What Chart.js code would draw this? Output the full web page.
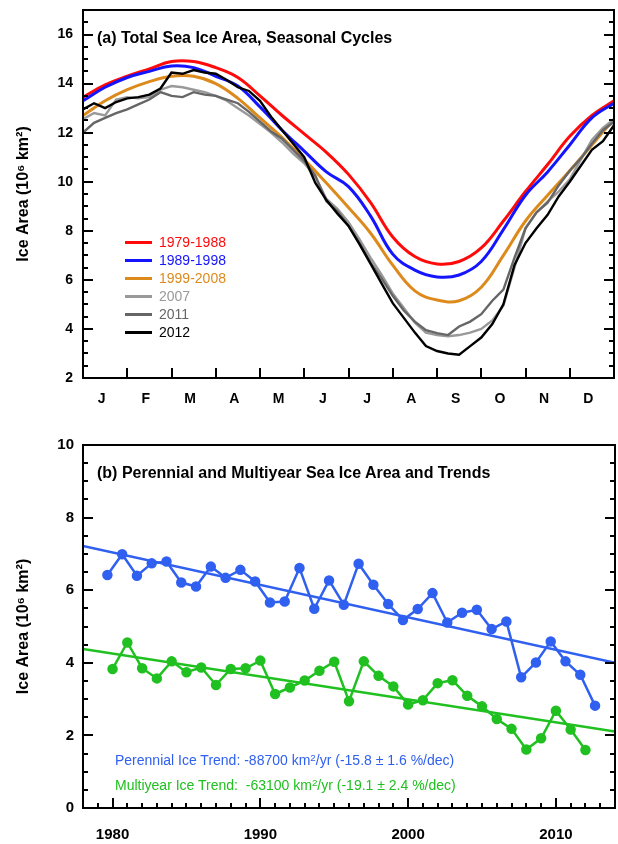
<!DOCTYPE html>
<html>
<head>
<meta charset="utf-8">
<script src="https://cdn.jsdelivr.net/npm/chart.js@4.4.1/dist/chart.umd.min.js"></script>
<style>
  body { margin: 0; background: #fff; }
  #wrap { position: relative; width: 618px; height: 844px; font-family: 'Liberation Sans', Arial, sans-serif; }
  canvas { position: absolute; left: 0; }
  .panel-title { position: absolute; left: 97px; font-weight: bold; font-size: 16px; line-height: 20px; white-space: nowrap; }
  .legend { position: absolute; left: 125px; top: 233px; font-size: 14px; line-height: 18px; }
  .legend div { white-space: nowrap; }
  .legend i { display: inline-block; width: 27px; height: 3px; vertical-align: middle; margin-right: 7px; position: relative; top: -1px; }
  .trend { position: absolute; left: 115px; font-size: 14px; line-height: 18px; white-space: nowrap; }
  sup { font-size: 70%; line-height: 0; vertical-align: 0.45em; }
</style>
</head>
<body>
<div id="wrap">
  <canvas id="seasonal" width="618" height="420" style="top:0"></canvas>
  <canvas id="trends" width="618" height="424" style="top:420px"></canvas>

  <div class="panel-title" style="top:28px">(a) Total Sea Ice Area, Seasonal Cycles</div>
  <div class="legend" id="legend"></div>

  <div class="panel-title" style="top:463px">(b) Perennial and Multiyear Sea Ice Area and Trends</div>
  <div class="trend" style="top:751px;color:#3060f0">Perennial Ice Trend: -88700 km<sup>2</sup>/yr (-15.8 ± 1.6 %/dec)</div>
  <div class="trend" style="top:776px;color:#20c020">Multiyear Ice Trend:&nbsp; -63100 km<sup>2</sup>/yr (-19.1 ± 2.4 %/dec)</div>
</div>

<script>
// ---- (a) seasonal cycles, values in 10^6 km2 ----
const months = ['J', 'F', 'M', 'A', 'M', 'J', 'J', 'A', 'S', 'O', 'N', 'D'];
const halfMonths = Array.from({length: 25}, (_, i) => i / 2);      // sample positions, months since Jan 1
const quarterMonths = Array.from({length: 49}, (_, i) => i / 4);

const ice7988 = [13.45, 13.95, 14.3, 14.6, 14.9, 14.9, 14.65, 14.25, 13.5, 12.7, 11.95, 11.2, 10.3,
                 9.15, 7.75, 6.95, 6.65, 6.75, 7.3, 8.4, 9.6, 10.7, 11.85, 12.7, 13.3];
const ice8998 = [13.3, 13.85, 14.25, 14.5, 14.72, 14.65, 14.3, 13.9, 13.05, 12.1, 11.25, 10.4, 9.8,
                 8.6, 7.05, 6.4, 6.12, 6.2, 6.75, 8.05, 9.45, 10.4, 11.5, 12.6, 13.2];
const ice9908 = [12.7, 13.3, 13.75, 14.08, 14.3, 14.3, 14.0, 13.4, 12.6, 11.8, 10.9, 9.95, 8.95,
                 7.9, 6.6, 5.55, 5.18, 5.15, 5.7, 7.0, 8.4, 9.45, 10.45, 11.5, 12.55];

const ice2007 = [12.55, 12.8, 12.7, 13.35, 13.45, 13.4, 13.45, 13.75, 13.9, 13.85, 13.75, 13.65, 13.5,
                 13.3, 13.0, 12.7, 12.35, 12.0, 11.6, 11.15, 10.75, 10.2, 9.3, 8.9, 8.35,
                 7.65, 6.9, 6.2, 5.45, 4.85, 4.25, 3.85, 3.75, 3.7, 3.75, 3.85, 4.0,
                 4.35, 4.95, 6.5, 8.1, 8.75, 9.2, 9.6, 10.1, 10.9, 11.7, 12.2, 12.55];
const ice2011 = [12.0, 12.4, 12.6, 12.8, 12.95, 13.15, 13.35, 13.65, 13.5, 13.45, 13.65, 13.55, 13.5,
                 13.35, 13.2, 12.85, 12.45, 12.05, 11.75, 11.3, 10.85, 10.25, 9.2, 8.8, 8.2,
                 7.5, 6.7, 6.05, 5.35, 4.75, 4.3, 3.95, 3.83, 3.75, 4.1, 4.3, 4.6,
                 5.15, 5.6, 6.9, 8.1, 8.75, 9.15, 9.85, 10.45, 10.95, 11.55, 12.1, 12.45];
const ice2012 = [12.95, 13.2, 13.0, 13.25, 13.4, 13.45, 13.55, 13.8, 14.45, 14.4, 14.55, 14.45, 14.4,
                 14.15, 13.85, 13.7, 13.3, 12.65, 12.1, 11.55, 11.0, 9.95, 9.25, 8.7, 8.2,
                 7.45, 6.65, 5.85, 5.05, 4.45, 3.85, 3.3, 3.1, 3.0, 2.95, 3.3, 3.65,
                 4.2, 5.0, 6.6, 7.5, 8.1, 8.65, 9.4, 10.0, 10.65, 11.3, 11.65, 12.3];

// ---- (b) perennial (Sept minimum) and multiyear (winter) ice ----
const perennialYears = [1979, 1980, 1981, 1982, 1983, 1984, 1985, 1986, 1987, 1988, 1989, 1990,
                        1991, 1992, 1993, 1994, 1995, 1996, 1997, 1998, 1999, 2000, 2001, 2002,
                        2003, 2004, 2005, 2006, 2007, 2008, 2009, 2010, 2011, 2012];
const perennialArea = [6.42, 6.99, 6.40, 6.74, 6.79, 6.21, 6.10, 6.65, 6.34, 6.56, 6.24, 5.66,
                       5.69, 6.61, 5.49, 6.27, 5.60, 6.73, 6.15, 5.62, 5.18, 5.48, 5.92, 5.11,
                       5.38, 5.46, 4.93, 5.14, 3.60, 4.01, 4.59, 4.04, 3.67, 2.82];
const multiyearYears = perennialYears.slice(1);
const multiyearArea = [3.83, 4.56, 3.85, 3.57, 4.04, 3.74, 3.87, 3.39, 3.83, 3.85, 4.06,
                       3.14, 3.32, 3.51, 3.78, 4.03, 2.94, 4.04, 3.64, 3.35, 2.85, 2.97,
                       3.44, 3.52, 3.09, 2.80, 2.45, 2.18, 1.61, 1.92, 2.68, 2.16, 1.60];
const septFraction = 0.65;   // perennial values sit at the September minimum
const trendYears = [1978, 2014];
const perennialTrend = [7.22, 4.0];
const multiyearTrend = [4.38, 2.11];
const yearLabels = [1980, 1990, 2000, 2010];

const RED = '#ff0a0a', BLUE = '#1414ff', ORANGE = '#dd8a1c';
const BLUE_B = '#3060f0', GREEN_B = '#20c020';

Chart.defaults.font.family = "'Liberation Sans', Arial, sans-serif";
Chart.defaults.color = '#000';

const pts = (xs, ys) => ys.map((v, i) => ({x: xs[i], y: v}));
const noPad = s => { s.paddingTop = 0; s.paddingBottom = 0; s.paddingLeft = 0; s.paddingRight = 0; };

// frame + inward tick marks, placed through the chart scales
const frameTicks = {
    id: 'frameTicks',
    afterDatasetsDraw(chart, args, o) {
        const {ctx, chartArea: a, scales: {x, y}} = chart;
        ctx.save();
        ctx.strokeStyle = '#000';
        ctx.lineWidth = 2;
        ctx.beginPath();
        for (let v = y.min + o.yMinor; v < y.max - 1e-6; v += o.yMinor) {
            const py = Math.round(y.getPixelForValue(v));
            const r = v / o.yMajor;
            const len = Math.abs(r - Math.round(r)) < 1e-6 ? 10 : 5;
            ctx.moveTo(a.left, py); ctx.lineTo(a.left + len, py);
            ctx.moveTo(a.right, py); ctx.lineTo(a.right - len, py);
        }
        o.xTicks.forEach(v => {
            const px = Math.round(x.getPixelForValue(v));
            const len = o.xMajor ? (v % o.xMajor === 0 ? 10 : 5) : 10;
            ctx.moveTo(px, a.bottom); ctx.lineTo(px, a.bottom - len);
        });
        ctx.stroke();
        ctx.strokeRect(a.left, a.top, a.right - a.left, a.bottom - a.top);
        ctx.restore();
    }
};

const yTitle = 'Ice Area (10\u2076 km\u00b2)';

// legend (a)
const legendRows = [['1979-1988', RED], ['1989-1998', BLUE], ['1999-2008', ORANGE],
                    ['2007', '#999999'], ['2011', '#666666'], ['2012', '#000000']];
document.getElementById('legend').innerHTML = legendRows
    .map(([t, c]) => `<div style="color:${c}"><i style="background:${c}"></i>${t}</div>`).join('');

new Chart(document.getElementById('seasonal'), {
    type: 'line',
    data: {
        datasets: [
            {label: '1979-1988', data: pts(halfMonths, ice7988), borderColor: RED, borderWidth: 3, tension: 0.4, order: 6},
            {label: '1989-1998', data: pts(halfMonths, ice8998), borderColor: BLUE, borderWidth: 3, tension: 0.4, order: 5},
            {label: '1999-2008', data: pts(halfMonths, ice9908), borderColor: ORANGE, borderWidth: 3, tension: 0.4, order: 4},
            {label: '2007', data: pts(quarterMonths, ice2007), borderColor: '#999999', borderWidth: 2.4, tension: 0, order: 3},
            {label: '2011', data: pts(quarterMonths, ice2011), borderColor: '#666666', borderWidth: 2.4, tension: 0, order: 2},
            {label: '2012', data: pts(quarterMonths, ice2012), borderColor: '#000000', borderWidth: 2.4, tension: 0, order: 1}
        ]
    },
    options: {
        responsive: false,
        animation: false,
        layout: {autoPadding: false, padding: {left: 0, right: 4, top: 10, bottom: 0}},
        elements: {point: {radius: 0}},
        plugins: {
            legend: {display: false},
            tooltip: {enabled: false},
            frameTicks: {yMinor: 0.5, yMajor: 2, xTicks: [1, 2, 3, 4, 5, 6, 7, 8, 9, 10, 11]}
        },
        scales: {
            x: {
                type: 'linear', min: 0, max: 12,
                grid: {display: false, drawTicks: false}, border: {display: false},
                afterBuildTicks: s => { s.ticks = months.map((m, i) => ({value: i + 0.42})); },
                afterFit: s => { s.height = 42; noPad(s); },
                ticks: {autoSkip: false, maxRotation: 0, padding: 13, font: {size: 14, weight: 'bold'},
                        callback: (v, i) => months[i]}
            },
            y: {
                min: 2, max: 17,
                grid: {display: false, drawTicks: false}, border: {display: false},
                afterFit: s => { s.width = 83; noPad(s); },
                ticks: {stepSize: 2, includeBounds: false, padding: 10, font: {size: 14, weight: 'bold'}},
                title: {display: true, text: yTitle, font: {size: 16, weight: 'bold'}, padding: {top: 14, bottom: 0}}
            }
        }
    },
    plugins: [frameTicks]
});

const yearTicks = Array.from({length: 37}, (_, i) => 1978 + i);

new Chart(document.getElementById('trends'), {
    type: 'line',
    data: {
        datasets: [
            {label: 'Perennial', data: pts(perennialYears.map(y => y + septFraction), perennialArea),
             borderColor: BLUE_B, backgroundColor: BLUE_B, borderWidth: 2.5, pointRadius: 4, tension: 0},
            {label: 'Multiyear', data: pts(multiyearYears, multiyearArea),
             borderColor: GREEN_B, backgroundColor: GREEN_B, borderWidth: 2.5, pointRadius: 4, tension: 0},
            {label: 'Perennial trend', data: pts(trendYears, perennialTrend),
             borderColor: BLUE_B, borderWidth: 2.5, pointRadius: 0},
            {label: 'Multiyear trend', data: pts(trendYears, multiyearTrend),
             borderColor: GREEN_B, borderWidth: 2.5, pointRadius: 0}
        ]
    },
    options: {
        responsive: false,
        animation: false,
        layout: {autoPadding: false, padding: {left: 0, right: 3, top: 25, bottom: 0}},
        plugins: {
            legend: {display: false},
            tooltip: {enabled: false},
            frameTicks: {yMinor: 0.5, yMajor: 2, xTicks: yearTicks, xMajor: 10}
        },
        scales: {
            x: {
                type: 'linear', min: 1978, max: 2014,
                grid: {display: false, drawTicks: false}, border: {display: false},
                afterBuildTicks: s => { s.ticks = yearLabels.map(v => ({value: v})); },
                afterFit: s => { s.height = 36; noPad(s); },
                ticks: {autoSkip: false, maxRotation: 0, padding: 18, font: {size: 15, weight: 'bold'},
                        callback: v => String(v)}
            },
            y: {
                min: 0, max: 10,
                grid: {display: false, drawTicks: false}, border: {display: false},
                afterFit: s => { s.width = 83; noPad(s); },
                ticks: {stepSize: 2, includeBounds: false, padding: 9, font: {size: 15, weight: 'bold'}},
                title: {display: true, text: yTitle, font: {size: 16, weight: 'bold'}, padding: {top: 14, bottom: 0}}
            }
        }
    },
    plugins: [frameTicks]
});
</script>
</body>
</html>
